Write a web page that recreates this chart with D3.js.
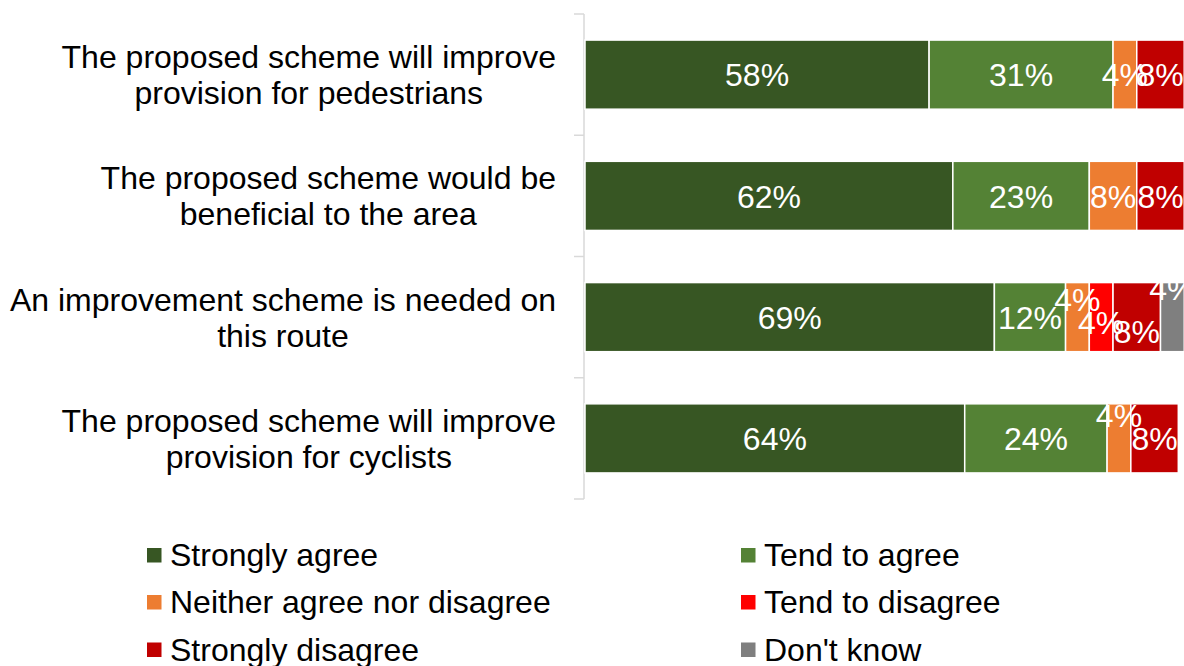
<!DOCTYPE html>
<html>
<head>
<meta charset="utf-8">
<script src="https://cdn.jsdelivr.net/npm/d3@7"></script>
<style>
  html, body { margin: 0; padding: 0; background: #fff; }
  svg { display: block; font-family: "Liberation Sans", Arial, sans-serif; }
</style>
</head>
<body>
<svg id="chart" width="1184" height="666"></svg>
<script>
// ---- data ----
const categories = [
  "The proposed scheme will improve\nprovision for pedestrians",
  "The proposed scheme would be\nbeneficial to the area",
  "An improvement scheme is needed on\nthis route",
  "The proposed scheme will improve\nprovision for cyclists"
];
const seriesNames = ["Strongly agree", "Tend to agree", "Neither agree nor disagree", "Tend to disagree", "Strongly disagree", "Don't know"];
const stronglyAgree    = [58, 62, 69, 64];
const tendToAgree      = [31, 23, 12, 24];
const neither          = [4, 8, 4, 4];
const tendToDisagree   = [0, 0, 4, 0];
const stronglyDisagree = [8, 8, 8, 8];
const dontKnow         = [0, 0, 4, 0];
const xTicks = [0, 100];

// ---- style / layout ----
const colors = ["#375623", "#548235", "#ED7D31", "#FF0000", "#C00000", "#7F7F7F"];
// vertical nudges of data labels (Excel-style collision avoidance), per row per series
const labelShiftY = [
  [0, 0, 0, 0, 0, 0],
  [0, 0, 0, 0, 0, 0],
  [0, 0, -18, 5, 14, -29],
  [0, 0, -23, 0, 0, 0]
];

const seriesValues = [stronglyAgree, tendToAgree, neither, tendToDisagree, stronglyDisagree, dontKnow];
const rows = categories.map((c, i) => {
  const o = { cat: c, idx: i };
  seriesNames.forEach((s, j) => o[s] = seriesValues[j][i]);
  return o;
});

const svg = d3.select("#chart");
const plotLeft = 585, plotTop = 14, plotBottom = 499;
const x = d3.scaleLinear().domain([xTicks[0], xTicks[1]]).range([plotLeft, 1178.3]);
const y = d3.scaleBand().domain(categories).range([plotTop, plotBottom]).paddingInner(0.43).paddingOuter(0.215);

const stack = d3.stack().keys(seriesNames);
const stacked = stack(rows);

// axis
const axisG = svg.append("g").attr("transform", `translate(${plotLeft - 1},0)`);
const yAxis = d3.axisLeft(y).tickSize(0).tickFormat("");
axisG.call(yAxis);
axisG.select(".domain").attr("stroke", "#D9D9D9").attr("stroke-width", 1.5)
  .attr("d", `M0,${plotTop}V${plotBottom}`);
// tick marks at band boundaries
const boundaries = categories.map(c => y(c) - y.step() * y.paddingInner() / 2);
boundaries[0] = plotTop;
boundaries.push(plotBottom);
axisG.selectAll("line.bt").data(boundaries).join("line").attr("class", "bt")
  .attr("x1", -10).attr("x2", 0).attr("y1", d => d).attr("y2", d => d)
  .attr("stroke", "#D9D9D9").attr("stroke-width", 1.5);

// bars
const layers = svg.append("g").selectAll("g").data(stacked).join("g")
  .attr("fill", (d, i) => colors[i]);
layers.selectAll("rect").data(d => d.filter(p => p[1] - p[0] > 0)).join("rect")
  .attr("x", d => x(d[0]))
  .attr("y", d => y(d.data.cat))
  .attr("width", d => x(d[1]) - x(d[0]))
  .attr("height", y.bandwidth())
  .attr("stroke", "#fff").attr("stroke-width", 1.5);

// data labels
const labelG = svg.append("g");
stacked.forEach((layer, j) => {
  layer.forEach(p => {
    const v = p[1] - p[0];
    if (v <= 0) return;
    const i = p.data.idx;
    labelG.append("text")
      .attr("x", (x(p[0]) + x(p[1])) / 2)
      .attr("y", y(p.data.cat) + y.bandwidth() / 2 + labelShiftY[i][j])
      .attr("dy", "0.37em")
      .attr("text-anchor", "middle")
      .attr("fill", "#fff")
      .attr("font-size", 32)
      .text(v + "%");
  });
});

// category labels
const catG = svg.append("g");
categories.forEach(c => {
  const lines = c.split("\n");
  const t = catG.append("text").attr("font-size", 32).attr("fill", "#000").attr("text-anchor", "middle");
  const lh = 36;
  const cy = y(c) + y.bandwidth() / 2;
  lines.forEach((ln, k) => {
    t.append("tspan").attr("y", cy + (k - (lines.length - 1) / 2) * lh).attr("dy", "0.36em").text(ln);
  });
  let maxW = 0;
  t.selectAll("tspan").each(function () { maxW = Math.max(maxW, this.getComputedTextLength()); });
  const cx = 556 - maxW / 2;
  t.selectAll("tspan").attr("x", cx);
});

// legend
const legCols = [147, 741];
const legRows = [555.5, 602.5, 650];
const legG = svg.append("g");
seriesNames.forEach((s, j) => {
  const cx = legCols[j % 2], cy = legRows[Math.floor(j / 2)];
  legG.append("rect").attr("x", cx).attr("y", cy - 7.5).attr("width", 14.5).attr("height", 14.5).attr("fill", colors[j]);
  legG.append("text").attr("x", cx + 23).attr("y", cy).attr("dy", "0.33em")
    .attr("font-size", 32).attr("fill", "#000").text(s);
});
</script>
</body>
</html>
